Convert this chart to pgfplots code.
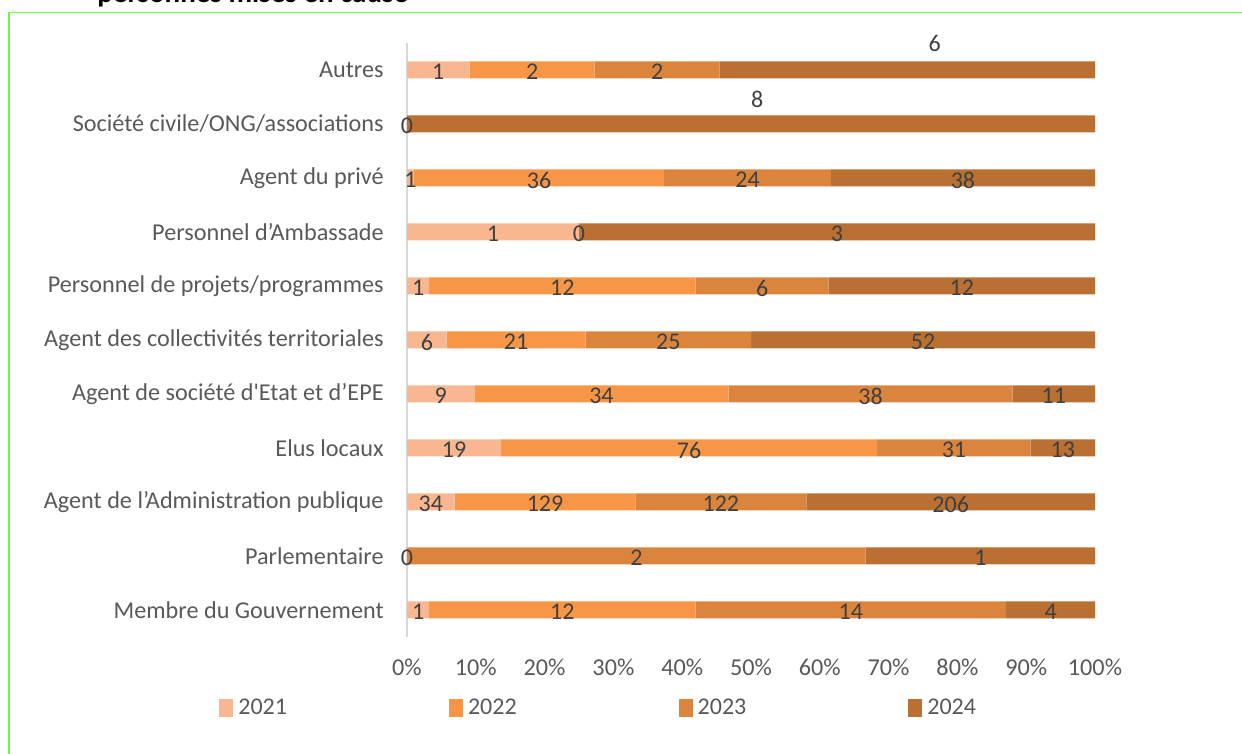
\documentclass[border=0pt]{standalone}
\usepackage{pgfplots}
\pgfplotsset{compat=1.18}
\usepackage{fontspec}
\setmainfont{Carlito}
\newfontfamily\plainc{Carlito}
\definecolor{c21}{HTML}{F9B791}
\definecolor{c22}{HTML}{F79646}
\definecolor{c23}{HTML}{DB843D}
\definecolor{c24}{HTML}{BA7033}
\definecolor{tickgray}{HTML}{595959}
\definecolor{lblgray}{HTML}{404040}
\definecolor{axgray}{HTML}{D9D9D9}
\definecolor{bordergreen}{HTML}{74F252}
\pgfplotsset{sq/.style={legend image code/.code={\fill[##1,draw=none] (0pt,-4.5pt) rectangle (7pt,4.5pt);}}}
\begin{document}
\begin{tikzpicture}
\useasboundingbox (0,0) rectangle (621pt,377pt);
\draw[color=bordergreen, line width=0.75pt] (4.5pt,0) -- (4.5pt,370.75pt) -- (621pt,370.75pt);
\node[anchor=base west, inner sep=0pt, font=\fontsize{14.5}{17}\selectfont\bfseries] at (48.5pt,375.5pt) {personnes mises en cause};
\begin{axis}[
  at={(203.5pt,58.5pt)}, anchor=south west, scale only axis,
  width=344pt, height=297pt,
  xbar stacked, bar width=8.5pt,
  xmin=0, xmax=100, ymin=-0.5, ymax=10.5,
  axis x line*=bottom, x axis line style={draw=none},
  axis y line*=left, y axis line style={draw=axgray, line width=0.75pt, -},
  major tick length=0pt,
  ytick={0,...,10},
  yticklabels={Membre du Gouvernement, Parlementaire, Agent de l’Administration publique, Elus locaux, {\plainc Agent de société d'Etat et d’EPE}, Agent des collectivités territoriales, Personnel de projets/programmes, Personnel d’Ambassade, Agent du privé, Société civile/ONG/associations, Autres},
  xtick={0,10,...,100},
  xticklabels={0\%,10\%,20\%,30\%,40\%,50\%,60\%,70\%,80\%,90\%,100\%},
  tick label style={font=\fontsize{12.1}{14}\selectfont, text=tickgray, inner sep=0pt},
  yticklabel style={anchor=east, xshift=-11.5pt},
  xticklabel style={anchor=center, yshift=-15pt},
  legend style={at={(-0.2733,-0.1195)}, anchor=west, draw=none, fill=none, inner sep=0pt,
    font=\fontsize{12}{14}\selectfont, text=tickgray, nodes={inner sep=0pt},
    /tikz/every odd column/.append style={column sep=2.5pt},
    /tikz/every even column/.append style={column sep=81pt}},
  legend columns=4, legend cell align=left,
]
% order of y: 0 Gouv, 1 Parl, 2 Admin, 3 Elus, 4 Etat, 5 Collect, 6 Projets, 7 Ambassade, 8 Prive, 9 Societe civile, 10 Autres
\addplot[fill=c21, draw=none, sq] coordinates {(3.2258,0) (0,1) (6.9246,2) (13.6691,3) (9.7826,4) (5.7692,5) (3.2258,6) (25,7) (1.0101,8) (0,9) (9.0909,10)};
\addplot[fill=c22, draw=none, sq] coordinates {(38.7097,0) (0,1) (26.2729,2) (54.6763,3) (36.9565,4) (20.1923,5) (38.7097,6) (0,7) (36.3636,8) (0,9) (18.1818,10)};
\addplot[fill=c23, draw=none, sq] coordinates {(45.1613,0) (66.6667,1) (24.8473,2) (22.3022,3) (41.3043,4) (24.0385,5) (19.3548,6) (0,7) (24.2424,8) (0,9) (18.1818,10)};
\addplot[fill=c24, draw=none, sq] coordinates {(12.9032,0) (33.3333,1) (41.9552,2) (9.3525,3) (11.9565,4) (50,5) (38.7097,6) (75,7) (38.3838,8) (100,9) (54.5455,10)};
\legend{2021,2022,2023,2024}
\end{axis}
\begin{axis}[
  at={(203.5pt,58.5pt)}, anchor=south west, scale only axis,
  width=344pt, height=297pt,
  xmin=0, xmax=100, ymin=-0.5, ymax=10.5,
  hide axis, clip=false,
]
\addplot[draw=none, mark=none, nodes near coords, point meta=explicit symbolic,
  nodes near coords style={anchor=center, inner sep=0pt, yshift=-1pt, font=\fontsize{12}{14}\selectfont, text=lblgray}]
coordinates {
(1.6129,0) [1] (22.5806,0) [12] (64.5161,0) [14] (93.5484,0) [4]
(0,1) [0] (33.3333,1) [2] (83.3333,1) [1]
(3.4623,2) [34] (20.0611,2) [129] (45.6212,2) [122] (79.0224,2) [206]
(6.8345,3) [19] (41.0072,3) [76] (79.4965,3) [31] (95.3237,3) [13]
(4.8913,4) [9] (28.2609,4) [34] (67.3913,4) [38] (94.0217,4) [11]
(2.8846,5) [6] (15.8654,5) [21] (37.9808,5) [25] (75,5) [52]
(1.6129,6) [1] (22.5806,6) [12] (51.6129,6) [6] (80.6452,6) [12]
(12.5,7) [1] (25,7) [0] (62.5,7) [3]
(0.5051,8) [1] (19.1919,8) [36] (49.4949,8) [24] (80.8081,8) [38]
(0,9) [0] (50.9,9.5) [8]
(4.5455,10) [1] (18.1818,10) [2] (36.3636,10) [2] (76.7,10.52) [6]
};
\end{axis}
\end{tikzpicture}
\end{document}
